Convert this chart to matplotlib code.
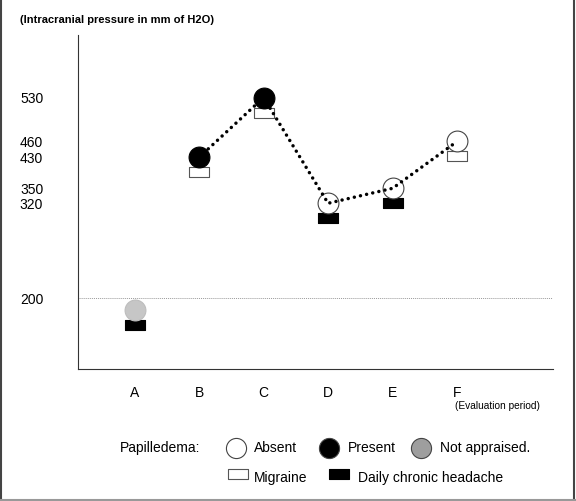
import numpy as np
import matplotlib.pyplot as plt
from matplotlib.path import Path
from matplotlib.lines import Line2D
from matplotlib.scale import FuncScale
import matplotlib.transforms as mtransforms

plt.rcParams['font.family'] = ['Liberation Sans', 'DejaVu Sans']

# podaci: period procjene, pritisak (mm H2O), papiledem, tip glavobolje
periodi = ['A', 'B', 'C', 'D', 'E', 'F']
pritisak = [185, 430, 530, 320, 350, 460]
papiledem = ['nije', 'da', 'da', 'ne', 'ne', 'ne']   # ne = odsutan, da = prisutan, nije = nije procijenjen
glavobolja = ['dnevna', 'migrena', 'migrena', 'dnevna', 'dnevna', 'migrena']
y_oznake = [200, 320, 350, 430, 460, 530]

# os y u originalu nije linearna -> kalibracija skale po polozaju oznaka
skala_vr = [100, 200, 320, 350, 430, 460, 530, 650]
skala_ekran = [-377, -298, -203, -188, -157, -141, -97, -21]


def napred(v):
    return np.interp(v, skala_vr, skala_ekran)


def nazad(s):
    return np.interp(s, skala_ekran, skala_vr)


boja_kruga = {'ne': 'white', 'da': 'black', 'nije': '#c6c6c6'}
ivica_kruga = {'ne': '#444444', 'da': 'black', 'nije': '#bdbdbd'}
boja_pravoug = {'migrena': 'white', 'dnevna': 'black'}

pravougaonik = Path([(-1, -0.48), (1, -0.48), (1, 0.48), (-1, 0.48), (-1, -0.48)],
                    [Path.MOVETO, Path.LINETO, Path.LINETO, Path.LINETO, Path.CLOSEPOLY])

fig = plt.figure(figsize=(5.76, 5.01), dpi=100)
ax = fig.add_axes([0.1354, 0.2635, 0.8247, 0.6667])
ax.set_yscale(FuncScale(ax.yaxis, (napred, nazad)))

x = np.arange(len(periodi))

# referentna linija 200
ax.axhline(200, color='#9a9a9a', lw=0.7, ls=(0, (1, 1)), zorder=1)

# pravougaonici ispod krugova (pomak 15 px nadolje)
pomak = mtransforms.offset_copy(ax.transData, fig=fig, x=0, y=-15, units='dots')
for xi, p, g in zip(x, pritisak, glavobolja):
    ax.plot(xi, p, marker=pravougaonik, ms=15, mfc=boja_pravoug[g],
            mec='#555555' if g == 'migrena' else 'black', mew=0.8,
            transform=pomak, zorder=2, ls='none')

# krugovi
for xi, p, s in zip(x, pritisak, papiledem):
    ax.plot(xi, p, marker='o', ms=15, mfc=boja_kruga[s], mec=ivica_kruga[s],
            mew=0.8, zorder=3, ls='none')

# tackasta linija B-F
ax.plot(x[1:], pritisak[1:], color='black', lw=2.5, ls=(0, (0.01, 1.8)),
        dash_capstyle='round', zorder=4)

ax.set_xlim(-0.877, 6.487)
ax.set_ylim(110, 629)
ax.set_xticks(x)
ax.set_xticklabels(periodi, fontsize=10)
ax.set_yticks(y_oznake)
ax.set_yticklabels([str(v) for v in y_oznake], fontsize=10)
ax.yaxis.set_minor_locator(plt.NullLocator())
ax.tick_params(axis='x', length=0, pad=12)
ax.tick_params(axis='y', length=0, pad=25)
for s in ['top', 'right']:
    ax.spines[s].set_visible(False)
for s in ['left', 'bottom']:
    ax.spines[s].set_color('#333333')
    ax.spines[s].set_linewidth(0.8)

fig.text(0.035, 0.96, '(Intracranial pressure in mm of H2O)', fontsize=8,
         fontweight='bold', va='center', ha='left')
fig.text(0.79, 0.19, '(Evaluation period)', fontsize=7.3, va='center', ha='left')

# legenda
fig.text(0.208, 0.106, 'Papilledema:', fontsize=10, va='center')
for xm, xt, s, lab in [(0.41, 0.441, 'ne', 'Absent'),
                       (0.571, 0.604, 'da', 'Present'),
                       (0.731, 0.764, 'nije', 'Not appraised.')]:
    fig.add_artist(Line2D([xm], [0.106], marker='o', ms=14.5,
                          mfc=boja_kruga[s] if s != 'nije' else '#9e9e9e',
                          mec='#444444', mew=0.8, transform=fig.transFigure))
    fig.text(xt, 0.106, lab, fontsize=10, va='center')

for xm, xt, g, lab in [(0.413, 0.441, 'migrena', 'Migraine'),
                       (0.589, 0.622, 'dnevna', 'Daily chronic headache')]:
    fig.add_artist(Line2D([xm], [0.054], marker=pravougaonik, ms=15,
                          mfc=boja_pravoug[g], mec='#555555' if g == 'migrena' else 'black',
                          mew=0.8, transform=fig.transFigure))
    fig.text(xt, 0.046, lab, fontsize=10, va='center')

# okvir slike
fig.add_artist(Line2D([0.001, 0.001], [0, 1], color='#444444', lw=1.5, transform=fig.transFigure))
fig.add_artist(Line2D([0.997, 0.997], [0, 1], color='#444444', lw=1.5, transform=fig.transFigure))
fig.add_artist(Line2D([0, 1], [0.002, 0.002], color='#999999', lw=1.5, transform=fig.transFigure))

fig.savefig('out.png', dpi=100)
